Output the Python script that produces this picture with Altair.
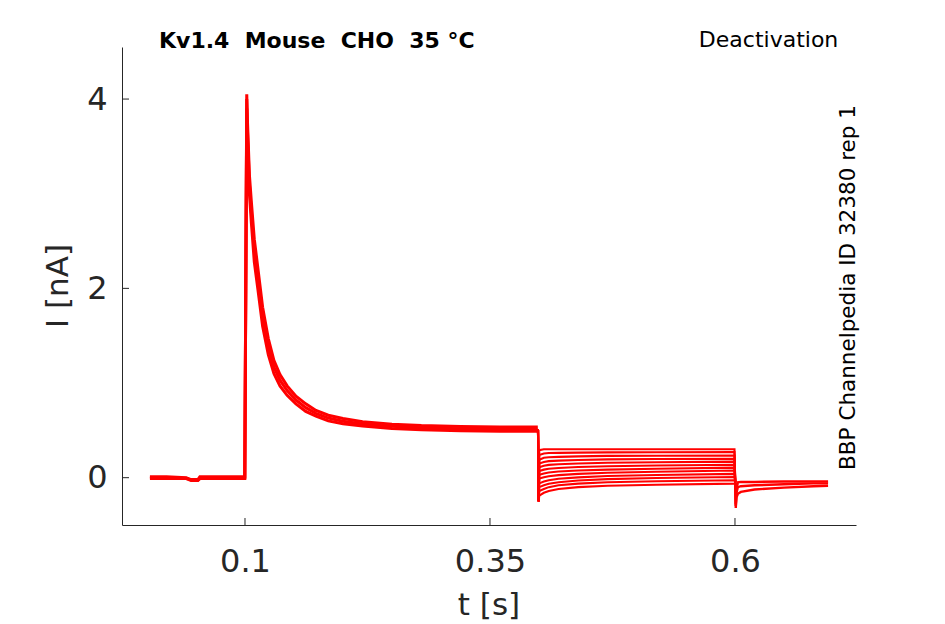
import altair as alt
import pandas as pd

# ---------------- data ----------------
# activation step (shared by all sweeps): upper edge, middle and lower edge of the bundle
act_t = [0.003, 0.02, 0.04, 0.045, 0.052, 0.054, 0.08, 0.0998,
         0.1008, 0.1018, 0.1024, 0.1031, 0.1045, 0.1066, 0.1095, 0.1133, 0.118, 0.1238,
         0.1295, 0.1357, 0.143, 0.152, 0.162, 0.1724, 0.185, 0.2, 0.22, 0.25, 0.28,
         0.32, 0.36, 0.3988]
act_i_hi = [0.01, 0.01, 0.0, -0.02, -0.02, 0.01, 0.01, 0.01,
            2.0, 4.05, 3.8, 3.6, 3.2, 2.9, 2.52, 2.2, 1.80, 1.47,
            1.24, 1.09, 0.97, 0.86, 0.78, 0.71, 0.66, 0.625, 0.59, 0.565, 0.55,
            0.54, 0.535, 0.535]
act_i_mid = [0.0, 0.0, -0.005, -0.025, -0.025, 0.0, 0.0, 0.0,
             2.0, 4.0, 3.7, 3.5, 3.1, 2.79, 2.4, 2.09, 1.70, 1.386,
             1.17, 1.03, 0.92, 0.82, 0.74, 0.68, 0.63, 0.597, 0.567, 0.542, 0.527,
             0.517, 0.512, 0.512]
act_i_lo = [-0.01, -0.01, -0.01, -0.03, -0.03, -0.01, -0.01, -0.01,
            2.0, 3.9, 3.6, 3.4, 3.0, 2.68, 2.28, 1.98, 1.60, 1.30,
            1.10, 0.97, 0.87, 0.78, 0.70, 0.65, 0.60, 0.57, 0.545, 0.52, 0.505,
            0.495, 0.49, 0.49]

# deactivation sweeps (one list per sweep, sampled at deact_t)
deact_t = [0.399, 0.3996, 0.4003, 0.405, 0.41, 0.42, 0.44, 0.47, 0.52, 0.5995, 0.6003]
sweep_01 = [0.51, -0.25, 0.29, 0.30, 0.30, 0.30, 0.30, 0.30, 0.30, 0.30, -0.05]
sweep_02 = [0.51, -0.25, 0.24, 0.255, 0.26, 0.262, 0.265, 0.267, 0.268, 0.27, -0.05]
sweep_03 = [0.51, -0.25, 0.19, 0.21, 0.215, 0.22, 0.225, 0.23, 0.232, 0.235, -0.05]
sweep_04 = [0.51, -0.25, 0.15, 0.165, 0.175, 0.18, 0.187, 0.193, 0.197, 0.20, -0.05]
sweep_05 = [0.51, -0.25, 0.11, 0.125, 0.135, 0.142, 0.15, 0.157, 0.163, 0.17, -0.05]
sweep_06 = [0.51, -0.25, 0.07, 0.085, 0.095, 0.103, 0.112, 0.12, 0.128, 0.137, -0.05]
sweep_07 = [0.51, -0.25, 0.03, 0.045, 0.055, 0.065, 0.075, 0.085, 0.095, 0.106, -0.05]
sweep_08 = [0.51, -0.25, -0.01, 0.005, 0.015, 0.027, 0.04, 0.052, 0.063, 0.075, -0.05]
sweep_09 = [0.51, -0.25, -0.06, -0.04, -0.027, -0.012, 0.003, 0.017, 0.028, 0.04, -0.05]
sweep_10 = [0.51, -0.25, -0.10, -0.08, -0.065, -0.048, -0.03, -0.015, -0.003, 0.007, -0.05]
sweep_11 = [0.51, -0.25, -0.14, -0.12, -0.10, -0.08, -0.063, -0.048, -0.037, -0.028, -0.05]
sweep_12 = [0.51, -0.25, -0.19, -0.16, -0.14, -0.12, -0.10, -0.085, -0.074, -0.063, -0.05]
sweeps = [sweep_01, sweep_02, sweep_03, sweep_04, sweep_05, sweep_06,
          sweep_07, sweep_08, sweep_09, sweep_10, sweep_11, sweep_12]

# tail after the return step (upper edge, middle, lower edge)
post_t = [0.6003, 0.6008, 0.6015, 0.603, 0.606, 0.62, 0.65, 0.68, 0.695]
post_i_hi = [-0.05, -0.28, -0.12, -0.05, -0.045, -0.045, -0.04, -0.04, -0.04]
post_i_mid = [-0.05, -0.30, -0.16, -0.10, -0.09, -0.08, -0.07, -0.06, -0.06]
post_i_lo = [-0.05, -0.32, -0.21, -0.17, -0.15, -0.125, -0.105, -0.09, -0.085]

x_ticks = [0.1, 0.35, 0.6]
y_ticks = [0, 2, 4]

NB = "\u00a0"
title_left = f"Kv1.4 {NB}Mouse {NB}CHO {NB}35 °C"
title_right = "Deactivation"
side_text = "BBP Channelpedia ID 32380 rep 1"
x_title = "t [s]"
y_title = "I [nA]"

# ---------------- tables ----------------
act_df = pd.concat([
    pd.DataFrame({"s": "hi", "t": act_t, "I": act_i_hi}),
    pd.DataFrame({"s": "mid", "t": act_t, "I": act_i_mid}),
    pd.DataFrame({"s": "lo", "t": act_t, "I": act_i_lo}),
])
deact_df = pd.concat([
    pd.DataFrame({"s": f"sw{k}", "t": deact_t, "I": vals}) for k, vals in enumerate(sweeps)
])
post_df = pd.concat([
    pd.DataFrame({"s": "hi", "t": post_t, "I": post_i_hi}),
    pd.DataFrame({"s": "mid", "t": post_t, "I": post_i_mid}),
    pd.DataFrame({"s": "lo", "t": post_t, "I": post_i_lo}),
])

FONT = "DejaVu Sans"
AX = "#262626"
RED = "#ff0000"

xscale = alt.Scale(domain=[-0.0255, 0.7235], nice=False, zero=False)
yscale = alt.Scale(domain=[-0.5, 4.55], nice=False, zero=False)
x_axis = alt.Axis(values=x_ticks, format=".2~f", title=None, grid=False, tickSize=0,
                  labelPadding=21, labelFontSize=32, labelFont=FONT, labelColor=AX,
                  domainColor=AX, domainWidth=1, labelFlush=False, labelOverlap=False)
y_axis = alt.Axis(values=y_ticks, format="d", title=None, grid=False, tickSize=0,
                  labelPadding=15, labelFontSize=32, labelFont=FONT, labelColor=AX,
                  domainColor=AX, domainWidth=1, labelFlush=False, labelOverlap=False)

X = alt.X("t:Q", scale=xscale, axis=x_axis)
Y = alt.Y("I:Q", scale=yscale, axis=y_axis)

act = alt.Chart(act_df).mark_line(color=RED, strokeWidth=3.0).encode(x=X, y=Y, detail="s:N")
deact = alt.Chart(deact_df).mark_line(color=RED, strokeWidth=2.1).encode(x=X, y=Y, detail="s:N")
post = alt.Chart(post_df).mark_line(color=RED, strokeWidth=2.4).encode(x=X, y=Y, detail="s:N")

xt = alt.Chart(pd.DataFrame({"t": x_ticks})).mark_rule(color=AX, strokeWidth=1).encode(
    x=X, y=alt.value(478), y2=alt.value(471))
yt = alt.Chart(pd.DataFrame({"I": y_ticks})).mark_rule(color=AX, strokeWidth=1).encode(
    y=Y, x=alt.value(0), x2=alt.value(7))


def label(text, x, y, size, align="center", angle=0, bold=False, color="black"):
    kw = dict(font=FONT, fontSize=size, align=align, baseline="alphabetic", color=color)
    if angle:
        kw["angle"] = angle
    if bold:
        kw["fontWeight"] = "bold"
    return alt.Chart(pd.DataFrame({"txt": [text]})).mark_text(**kw).encode(
        x=alt.value(x), y=alt.value(y), text="txt:N")


texts = [
    label(title_left, 37, 0.7, 22, align="left", bold=True),
    label(title_right, 716.3, -0.3, 22, align="right"),
    label(side_text, 732.5, 240.5, 21.5, angle=270),
    label(x_title, 367, 568, 31, color=AX),
    label(y_title, -54.5, 239, 31, angle=270, color=AX),
]

chart = alt.layer(act, deact, post, xt, yt, *texts).properties(
    width=734, height=478,
    autosize=alt.AutoSizeParams(type="none"),
    padding={"left": 114, "top": 39, "right": 80, "bottom": 97},
    background="white",
).configure_view(stroke=None)

chart.save("out.html", embed_options={"renderer": "svg", "actions": False})
